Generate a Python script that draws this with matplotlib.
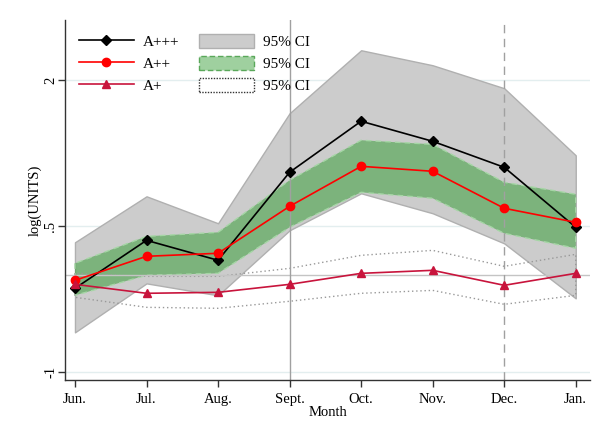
import matplotlib
matplotlib.use("Agg")
import matplotlib.pyplot as plt
from matplotlib.lines import Line2D
from matplotlib.patches import Patch

months = ["Jun.", "Jul.", "Aug.", "Sept.", "Oct.", "Nov.", "Dec.", "Jan."]

a3 = [-0.137, 0.356, 0.151, 1.055, 1.579, 1.373, 1.106, 0.49]
a3_lo = [-0.589, -0.086, -0.209, 0.459, 0.839, 0.634, 0.325, -0.24]
a3_hi = [0.336, 0.808, 0.531, 1.661, 2.308, 2.154, 1.918, 1.229]

a2 = [-0.055, 0.192, 0.223, 0.705, 1.116, 1.065, 0.685, 0.541]
a2_lo = [-0.209, -0.003, 0.017, 0.49, 0.849, 0.788, 0.428, 0.274]
a2_hi = [0.12, 0.397, 0.438, 0.973, 1.384, 1.342, 0.952, 0.829]

a1 = [-0.096, -0.188, -0.178, -0.096, 0.017, 0.048, -0.106, 0.017]
a1_lo = [-0.229, -0.332, -0.342, -0.27, -0.188, -0.158, -0.301, -0.209]
a1_hi = [0.017, -0.014, -0.014, 0.068, 0.202, 0.253, 0.089, 0.212]

yticks = [2, 0.5, -1]
ytick_labels = ["2", ".5", "-1"]

plt.rcParams['font.family'] = ['Liberation Serif', 'DejaVu Serif']

fig = plt.figure(figsize=(5.96, 4.32), dpi=100)
ax = fig.add_axes([0.109, 0.120, 0.881, 0.834])

x = list(range(len(months)))

# gridlines
for yv in yticks:
    ax.axhline(yv, color='#e3eeef', lw=1.0, zorder=0.5)

# bands
ax.fill_between(x, a3_lo, a3_hi, facecolor='#cccccc', edgecolor='#b0b0b0', lw=1.0, zorder=1)
ax.fill_between(x, a2_lo, a2_hi, facecolor=(45/255, 155/255, 45/255, 0.5),
                edgecolor='#a6d6a6', lw=1.0, linestyle=(0, (4, 3)), zorder=2)
ax.fill_between(x, a1_lo, a1_hi, facecolor='none', edgecolor='#999999', lw=1.0,
                linestyle=(0, (1, 2)), zorder=2)

# reference lines
ax.axhline(0, color='#c4c4c4', lw=1.0, zorder=2.5)
ax.axvline(3, color='#a0a0a0', lw=1.0, zorder=2.5)
ax.axvline(6, color='#a0a0a0', lw=1.0, linestyle=(0, (6, 4)), zorder=2.5)

# series
ax.plot(x, a3, color='black', lw=1.2, marker='D', ms=5.5, zorder=4)
ax.plot(x, a2, color='#ff0000', lw=1.2, marker='o', ms=6, zorder=4)
ax.plot(x, a1, color='#c8143c', lw=1.2, marker='^', ms=6, zorder=4)

ax.set_xlim(-0.14, 7.2)
ax.set_ylim(-1.08, 2.62)
ax.set_xticks(x)
ax.set_xticklabels(months, fontsize=10.5)
ax.set_yticks(yticks)
ax.set_yticklabels(ytick_labels, fontsize=10.5, rotation=90, va='center')
ax.tick_params(axis='both', direction='out', length=5, width=1, color='#333333')
ax.tick_params(axis='y', pad=0.5)
ax.tick_params(axis='x', pad=4.5)
ax.set_xlabel("Month", fontsize=10.5, labelpad=0)
ax.set_ylabel("log(UNITS)", fontsize=10.5, labelpad=2)

for s in ['top', 'right']:
    ax.spines[s].set_visible(False)
for s in ['left', 'bottom']:
    ax.spines[s].set_color('#333333')
    ax.spines[s].set_linewidth(1.0)

handles = [
    Line2D([], [], color='black', lw=1.2, marker='D', ms=5.5),
    Line2D([], [], color='#ff0000', lw=1.2, marker='o', ms=6),
    Line2D([], [], color='#c8143c', lw=1.2, marker='^', ms=6),
    Patch(facecolor='#cccccc', edgecolor='#b0b0b0', lw=1.0),
    Patch(facecolor='#9fd09f', edgecolor='#5aa85a', lw=1.0, linestyle=(0, (4, 2))),
    Patch(facecolor='white', edgecolor='#333333', lw=1.0, linestyle=(0, (1, 1))),
]
labels = ["A+++", "A++", "A+", "95% CI", "95% CI", "95% CI"]
ax.legend(handles, labels, ncol=2, frameon=False, loc='upper left',
          bbox_to_anchor=(0.0, 1.0), fontsize=11, handlelength=3.6,
          handleheight=1.1, labelspacing=0.42, columnspacing=1.3,
          handletextpad=0.6, borderaxespad=0.5)

fig.savefig("out.png", dpi=100, facecolor='white')
